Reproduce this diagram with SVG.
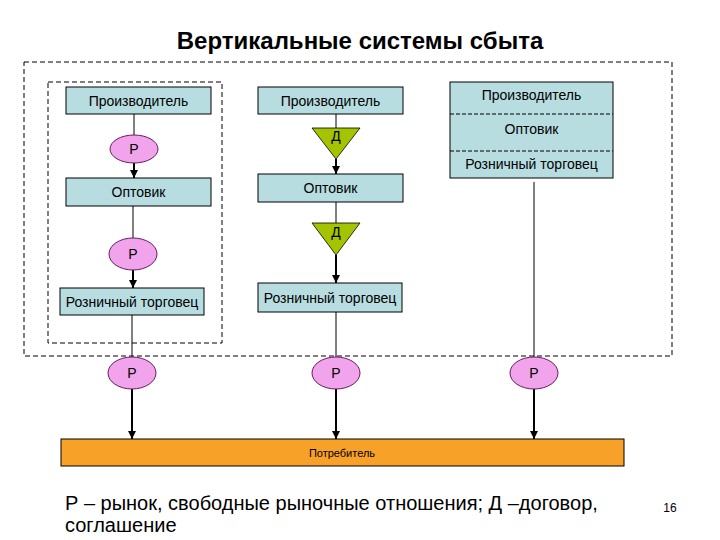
<svg xmlns="http://www.w3.org/2000/svg" width="720" height="540" viewBox="0 0 720 540">
<defs>
<style>
.t{font-family:"Liberation Sans",Arial,sans-serif;fill:#000}
.bt{font-size:14px;text-anchor:middle}
.box{fill:#b7dde0;stroke:#000;stroke-width:1}
.p{fill:#f1a4ec;stroke:#6a1a60;stroke-width:1}
.d{fill:#a5c400;stroke:#000;stroke-width:0.8}
.ln{stroke:#000;stroke-width:1;fill:none}
.ar{stroke:#000;stroke-width:2;fill:none;marker-end:url(#ah)}
.dash{fill:none;stroke:#000;stroke-width:1;stroke-dasharray:5,3}
</style>
<marker id="ah" viewBox="0 0 10 10" refX="10" refY="5" markerWidth="4" markerHeight="4" orient="auto" markerUnits="strokeWidth">
<path d="M0,0 L10,5 L0,10 z" fill="#000"/>
</marker>
</defs>
<rect width="720" height="540" fill="#fff"/>
<text class="t" x="360" y="49" font-size="24" font-weight="bold" text-anchor="middle">Вертикальные системы сбыта</text>

<g id="frames">
<rect class="dash" x="24" y="62" width="648" height="294"/>
<rect class="dash" x="48" y="82" width="174" height="261"/>
</g>

<g id="connectors">
<line class="ln" x1="134" y1="114" x2="134" y2="135"/>
<line class="ar" x1="134" y1="163" x2="134" y2="178"/>
<line class="ln" x1="133" y1="206" x2="133" y2="238"/>
<line class="ar" x1="133" y1="270" x2="133" y2="288"/>
<line class="ln" x1="132" y1="315" x2="132" y2="357"/>
<line class="ar" x1="132" y1="389" x2="132" y2="439"/>
<line class="ln" x1="336" y1="114" x2="336" y2="128"/>
<line class="ar" x1="336" y1="159" x2="336" y2="174"/>
<line class="ln" x1="336" y1="202" x2="336" y2="223"/>
<line class="ar" x1="336" y1="255" x2="336" y2="283"/>
<line class="ln" x1="336" y1="312" x2="336" y2="357"/>
<line class="ar" x1="336" y1="389" x2="336" y2="439"/>
<line class="ln" x1="534" y1="182" x2="534" y2="357"/>
<line class="ar" x1="534" y1="389" x2="534" y2="439"/>
</g>

<g id="c1-prod"><rect class="box" x="66" y="87" width="145" height="27"/><text class="t bt" x="138.5" y="105.5">Производитель</text></g>
<g id="c1-p1"><ellipse class="p" cx="134" cy="149" rx="24" ry="14"/><text class="t bt" x="134" y="154">Р</text></g>
<g id="c1-opt"><rect class="box" x="66" y="178" width="145" height="28"/><text class="t bt" x="138.5" y="197">Оптовик</text></g>
<g id="c1-p2"><ellipse class="p" cx="133" cy="254" rx="24" ry="16"/><text class="t bt" x="133" y="259">Р</text></g>
<g id="c1-ret"><rect class="box" x="60" y="288" width="144" height="27"/><text class="t bt" x="132" y="306.5">Розничный торговец</text></g>
<g id="c1-p3"><ellipse class="p" cx="132" cy="373" rx="24" ry="16"/><text class="t bt" x="132" y="378">Р</text></g>

<g id="c2-prod"><rect class="box" x="258" y="87" width="145" height="27"/><text class="t bt" x="330.5" y="105.5">Производитель</text></g>
<g id="c2-d1"><polygon class="d" points="312,128 360,128 336,159"/><text class="t bt" x="336" y="141">Д</text></g>
<g id="c2-opt"><rect class="box" x="258" y="174" width="145" height="28"/><text class="t bt" x="330.5" y="193">Оптовик</text></g>
<g id="c2-d2"><polygon class="d" points="312,223 360,223 336,255"/><text class="t bt" x="336" y="237">Д</text></g>
<g id="c2-ret"><rect class="box" x="258" y="283" width="144" height="29"/><text class="t bt" x="330" y="302.5">Розничный торговец</text></g>
<g id="c2-p"><ellipse class="p" cx="336" cy="373" rx="24" ry="16"/><text class="t bt" x="336" y="378">Р</text></g>

<g id="c3-integrated">
<rect class="box" x="450" y="82" width="163" height="96"/>
<line x1="450" y1="114" x2="613" y2="114" stroke="#000" stroke-width="1" stroke-dasharray="4,2"/>
<line x1="450" y1="151" x2="613" y2="151" stroke="#000" stroke-width="1" stroke-dasharray="4,2"/>
<text class="t bt" x="531.5" y="100">Производитель</text>
<text class="t bt" x="531.5" y="134">Оптовик</text>
<text class="t bt" x="531.5" y="169">Розничный торговец</text>
</g>
<g id="c3-p"><ellipse class="p" cx="534" cy="373" rx="24" ry="16"/><text class="t bt" x="534" y="378">Р</text></g>

<g id="consumer"><rect x="61" y="439" width="563" height="27" fill="#f7a128" stroke="#000" stroke-width="1"/><text class="t" x="342" y="457" font-size="11" text-anchor="middle">Потребитель</text></g>

<text class="t" x="65" y="510" font-size="20">Р – рынок, свободные рыночные отношения; Д –договор,</text>
<text class="t" x="65" y="532" font-size="20">соглашение</text>
<text class="t" x="670" y="512" font-size="12" text-anchor="middle">16</text>
</svg>
